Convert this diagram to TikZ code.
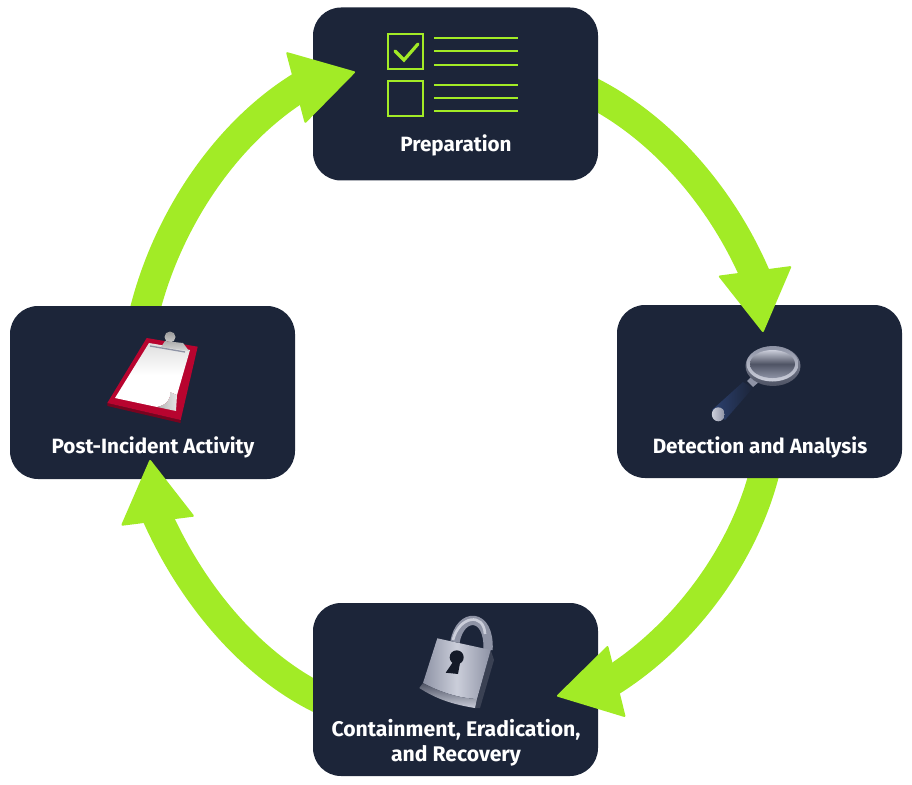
\documentclass[tikz,border=0pt]{standalone}
\usepackage{fontspec}
\setmainfont{Fira Sans}
\usetikzlibrary{arrows.meta,backgrounds}
\definecolor{stagenavy}{HTML}{1C2539}
\definecolor{stagegreen}{HTML}{A2EB26}
\definecolor{boardred}{HTML}{B8042F}
\definecolor{lockmetal}{HTML}{8E93A5}
\definecolor{locklight}{HTML}{CBCEDA}
\definecolor{lockdark}{HTML}{4E5364}
\definecolor{handlenavy}{HTML}{2C4170}
\tikzset{
  stagebox/.style={fill=stagenavy,rounded corners=21pt,minimum width=213.75pt,minimum height=129.75pt,inner sep=0pt},
  stagelabel/.style={text=white,font=\bfseries\fontsize{15.5}{18.75}\selectfont,align=center,inner sep=0pt},
  cyclebody/.style={draw=stagegreen,line width=22.5pt,looseness=0.85},
  cyclehead/.style={draw=stagegreen,line width=1pt,-{Triangle[width=55.5pt,length=47pt,round,line width=1.5pt,fill=stagegreen]}},
  checkline/.style={draw=stagegreen,line width=1.8pt}
}
\begin{document}
\begin{tikzpicture}[x=0.75pt,y=-0.75pt]
    \useasboundingbox (0,0) rectangle (912,784);
    \node[stagebox] (prep) at (455.5,94) {};
    \node[stagebox] (det) at (759.5,391.5) {};
    \node[stagebox] (post) at (152.5,392.5) {};
    \node[stagebox] (cont) at (455.5,689.5) {};
    \node[stagelabel] (preplabel) at (456,145) {Preparation};
    \node[stagelabel] (detlabel) at (760,447) {Detection and Analysis};
    \node[stagelabel] (postlabel) at (153,447) {Post-Incident Activity};
    \node[stagelabel,font=\bfseries\fontsize{15.9}{18.75}\selectfont] (contlabel) at (456,743) {Containment, Eradication,\\and Recovery};
%	now the arrows:
    \coordinate (prepout) at (587,90);   \coordinate (detbase) at (756,277);
    \coordinate (detout) at (766,466);   \coordinate (contbase) at (610,682);
    \coordinate (contout) at (325,701);  \coordinate (postbase) at (157,516);
    \coordinate (postout) at (143,318);  \coordinate (prepbase) at (300,87);
    \begin{pgfonlayer}{background}
      \draw[cyclebody] (prepout) to[out=-26,in=113] (detbase);
      \draw[cyclebody] (detout) to[out=-103,in=32] (contbase);
      \draw[cyclebody] (contout) to[out=155,in=-66] (postbase);
      \draw[cyclebody] (postout) to[out=77,in=212] (prepbase);
    \end{pgfonlayer}
    \coordinate (dethead) at (754.5,268);  \coordinate (dettip) at (763,332);
    \coordinate (conthead) at (618,681);   \coordinate (conttip) at (557,696);
    \coordinate (posthead) at (158,523);   \coordinate (posttip) at (150,460);
    \coordinate (prephead) at (292.5,88.5); \coordinate (preptip) at (355,72);
    \draw[cyclehead] (dethead) -- (dettip);
    \draw[cyclehead] (conthead) -- (conttip);
    \draw[cyclehead] (posthead) -- (posttip);
    \draw[cyclehead] (prephead) -- (preptip);
%	now the checklist:
    \draw[checkline] (388,34) rectangle (423,69);
    \draw[checkline] (388,81) rectangle (423,116);
    \draw[checkline,line width=2.4pt,line cap=round] (395,51) -- (404,60) -- (418,44);
    \foreach \y in {38,51,65,85,98,111}
      \draw[checkline] (434,\y) -- (518,\y);
%	now the clipboard:
    \shade[top color=gray!80,bottom color=gray!40] (170,337) circle (5.5);
    \fill[black!35!boardred] (107.3,403) -- (107.5,406) -- (180.5,423) -- (180.7,420) -- cycle;
    \fill[boardred] (146.7,338) -- (197.7,346.7) -- (180.7,420) -- (107.3,403) -- cycle;
    \shade[top color=gray!25,bottom color=white,middle color=white] (149,343) -- (190,350) -- (177,395) -- (170,392) .. controls (171,400) and (166,405) .. (157,407) -- (115,398) -- cycle;
    \shade[left color=gray!60,right color=gray!20] (157,407) .. controls (166,405) and (171,400) .. (170,392) -- (177,395) -- (176,411) -- cycle;
    \shade[top color=gray!65,bottom color=gray!30] (165,341) -- (183,343) -- (189,351) -- (161,347) -- cycle;
    \draw[lockmetal,line width=1pt] (150,346) -- (185,352);
%	now the magnifier:
    \shade[left color=handlenavy,right color=stagenavy] (743,382) -- (753,388) -- (725,420) -- (712,410) -- cycle;
    \shade[left color=locklight,right color=lockmetal] (718.3,414.3) ellipse (6.5 and 7);
    \fill[lockmetal] (747,381) -- (752,376) -- (760,381) -- (753,387) -- cycle;
    \shade[top color=lockmetal,bottom color=lockdark] (773,366) ellipse (27.5 and 20);
    \shade[top color=lockmetal,bottom color=locklight] (772.5,364) ellipse (26 and 17.5);
    \shade[top color=locklight,bottom color=lockmetal,middle color=lockdark] (772.5,364) ellipse (22.5 and 14);
%	now the lock:
    \fill[lockdark!60!stagenavy] (490.7,650) -- (494,660) -- (480,708) -- (475,708) -- cycle;
    \draw[lockmetal,line width=7pt] (455,642) .. controls (460,612) and (490,612) .. (488,650);
    \draw[locklight,line width=2pt] (453,640) .. controls (459,616) and (484,612) .. (485,634);
    \shade[left color=lockmetal,right color=lockmetal,middle color=locklight] (437.3,638.3) -- (490.7,650) -- (477,699) .. controls (458,698) and (440,692) .. (423,683) -- cycle;
    \shade[top color=lockdark,bottom color=locklight] (423,683) .. controls (440,692) and (458,698) .. (477,699) -- (475,708) .. controls (450,704) and (435,698) .. (419.3,688) -- cycle;
    \fill[stagenavy!70!black] (456.7,657.3) circle (7);
    \fill[stagenavy!70!black] (453,662) -- (460,663) -- (458,674) -- (445.7,672.7) -- cycle;
\end{tikzpicture}
\end{document}
